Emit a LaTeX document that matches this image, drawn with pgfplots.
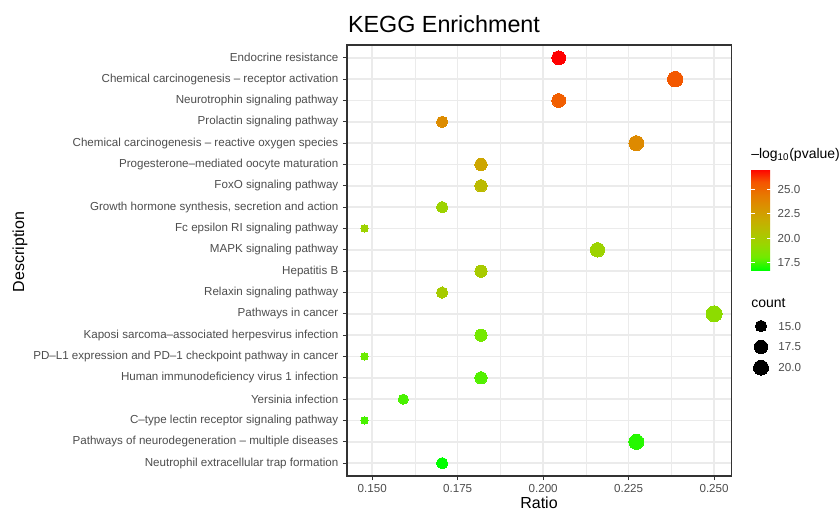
\documentclass[border=0pt]{standalone}
\usepackage{pgfplots}
\pgfplotsset{compat=1.18}
\usepackage{pgfplotstable}
\usepackage{fontspec}
\setmainfont{Liberation Sans}
\definecolor{tickgray}{HTML}{4D4D4D}
\definecolor{bordergray}{HTML}{333333}
\definecolor{gridgray}{HTML}{EBEBEB}

\pgfplotstableread{
idx ratio count p
1 0.20455 18 27.07
2 0.23864 21 25.6
3 0.20455 18 25.4
4 0.17045 15 23.5
5 0.22727 20 23.6
6 0.18182 16 22.2
7 0.18182 16 21.1
8 0.17045 15 19.6
9 0.14773 13 19.6
10 0.21591 19 19.6
11 0.18182 16 20.1
12 0.17045 15 20.0
13 0.25000 22 19.0
14 0.18182 16 18.2
15 0.14773 13 18.0
16 0.18182 16 17.7
17 0.15909 14 17.6
18 0.14773 13 17.6
19 0.22727 20 17.2
20 0.17045 15 16.76
}\keggdata

\pgfplotstableread{
idx x count
1 0 15
2 0 17.5
3 0 20
}\sizelegend

\begin{document}
\begin{tikzpicture}
\useasboundingbox (0pt,0pt) rectangle (629.25pt,383.25pt);

\begin{axis}[
  at={(260.25pt,26.25pt)}, anchor=south west,
  scale only axis, width=288.4pt, height=323.25pt,
  xmin=0.14262, xmax=0.25511, ymin=0.4, ymax=20.6, y dir=reverse,
  xtick={0.15,0.175,0.2,0.225,0.25},
  minor x tick num=1,
  ytick={1,...,20},
  yticklabels={Endocrine resistance,
    Chemical carcinogenesis – receptor activation,
    Neurotrophin signaling pathway,
    Prolactin signaling pathway,
    Chemical carcinogenesis – reactive oxygen species,
    Progesterone–mediated oocyte maturation,
    FoxO signaling pathway,
    {Growth hormone synthesis, secretion and action},
    Fc epsilon RI signaling pathway,
    MAPK signaling pathway,
    Hepatitis B,
    Relaxin signaling pathway,
    Pathways in cancer,
    Kaposi sarcoma–associated herpesvirus infection,
    PD–L1 expression and PD–1 checkpoint pathway in cancer,
    Human immunodeficiency virus 1 infection,
    Yersinia infection,
    C–type lectin receptor signaling pathway,
    Pathways of neurodegeneration – multiple diseases,
    Neutrophil extracellular trap formation},
  grid=both,
  major grid style={draw=gridgray, line width=1.1pt},
  minor grid style={draw=gridgray, line width=0.55pt},
  axis line style={draw=bordergray, line width=0.8pt},
  tick style={draw=bordergray, line width=0.7pt},
  major tick length=3pt, minor tick length=0pt,
  tick align=outside, tick pos=left,
  ticklabel style={font=\fontsize{8.7}{10}\selectfont, text=tickgray},
  /pgf/number format/assume math mode=true,
  xticklabel style={/pgf/number format/.cd, fixed, fixed zerofill, precision=3},
  colormap={kegg}{rgb255(0cm)=(0,255,0); rgb255(1cm)=(112,235,0); rgb255(2cm)=(152,215,0); rgb255(3cm)=(179,194,0); rgb255(4cm)=(201,171,0); rgb255(5cm)=(218,146,0); rgb255(6cm)=(232,119,0); rgb255(7cm)=(245,83,0); rgb255(8cm)=(255,0,0)},
  point meta min=16.76, point meta max=27.07,
  colorbar,
  colorbar style={
    at={(parent axis.north east)}, anchor=north west,
    xshift=6.15pt, yshift=-93pt,
    scale only axis, width=15.2pt, height=75.75pt,
    ytick={17.5,20,22.5,25},
    ytick pos=both, yticklabel pos=right,
    tick align=inside, major tick length=3.2pt,
    ytick style={draw=white, line width=0.6pt},
    axis line style={draw=none},
    yticklabel style={font=\fontsize{8.7}{10}\selectfont, text=tickgray, xshift=1.2pt,
      /pgf/number format/.cd, fixed, fixed zerofill, precision=1, assume math mode=true},
  },
]
\addplot[scatter, only marks, mark=*, scatter src=explicit,
  scatter/use mapped color={draw=mapped color, fill=mapped color},
  visualization depends on={0.75*(3.6+4.4*sqrt((\thisrow{count}-13)/9)) \as \msize},
  scatter/@pre marker code/.append style={/tikz/mark size=\msize pt},
  mark options={line width=0pt}]
  table[x=ratio, y=idx, meta=p] {\keggdata};
\end{axis}

\begin{axis}[
  at={(563.25pt,146.55pt)}, anchor=north west,
  scale only axis, width=15pt, height=46.9pt,
  hide axis, clip=false,
  xmin=-1, xmax=1, ymin=0.5, ymax=3.5, y dir=reverse,
]
\addplot[only marks, mark=*, black, mark options={line width=0pt},
  visualization depends on={0.75*(3.6+4.4*sqrt((\thisrow{count}-13)/9)) \as \msize},
  scatter, scatter src=explicit, point meta=0,
  scatter/use mapped color={draw=black, fill=black},
  scatter/@pre marker code/.append style={/tikz/mark size=\msize pt}]
  table[x=x, y=idx] {\sizelegend};
\node[anchor=west, font=\fontsize{8.7}{10}\selectfont, text=tickgray] at (axis cs:0,1) [xshift=9.5pt] {15.0};
\node[anchor=west, font=\fontsize{8.7}{10}\selectfont, text=tickgray] at (axis cs:0,2) [xshift=9.5pt] {17.5};
\node[anchor=west, font=\fontsize{8.7}{10}\selectfont, text=tickgray] at (axis cs:0,3) [xshift=9.5pt] {20.0};
\end{axis}

\node[anchor=base, font=\fontsize{17.5}{20}\selectfont] at (333pt,358.5pt) {KEGG Enrichment};
\node[font=\fontsize{12}{14}\selectfont] at (404.25pt,6pt) {Ratio};
\node[rotate=90, font=\fontsize{12}{14}\selectfont] at (15pt,194.25pt) {Description};
\node[anchor=west, inner sep=0pt, font=\fontsize{10.5}{12}\selectfont] at (563.25pt,267pt) {–log\textsubscript{10}(pvalue)};
\node[anchor=west, inner sep=0pt, font=\fontsize{10.5}{12}\selectfont] at (563.25pt,156pt) {count};
\end{tikzpicture}
\end{document}
